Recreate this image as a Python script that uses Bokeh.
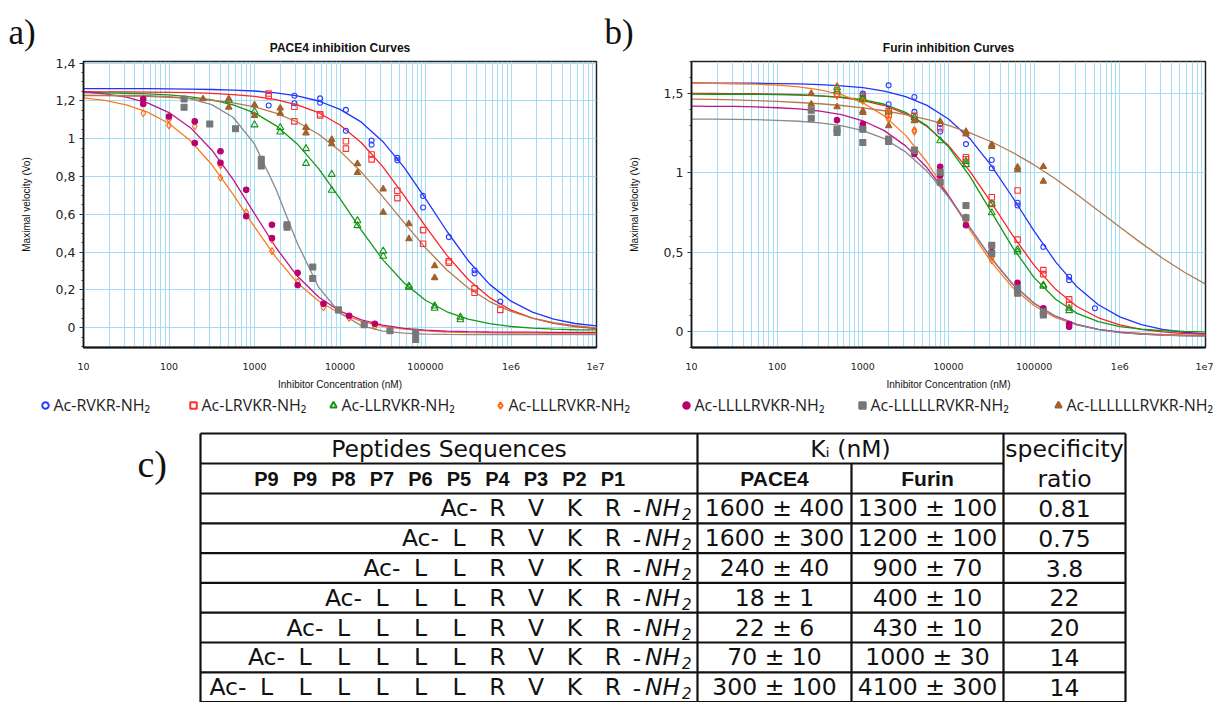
from bokeh.plotting import figure
from bokeh.models import Range1d, FixedTicker, CustomJSTickFormatter
from bokeh.layouts import column, row
from bokeh.embed import file_html
from bokeh.resources import INLINE
from bokeh.core.properties import value

# ----------------------------------------------------------------- data
names = ["Ac-RVKR-NH₂", "Ac-LRVKR-NH₂", "Ac-LLRVKR-NH₂", "Ac-LLLRVKR-NH₂",
         "Ac-LLLLRVKR-NH₂", "Ac-LLLLLRVKR-NH₂", "Ac-LLLLLLRVKR-NH₂"]
line_colors = ["#2233ff", "#ff2222", "#149814", "#ff7a1e", "#c0158a", "#8a8a8a", "#b67a48"]
mark_colors = ["#2a3cff", "#ff3030", "#169416", "#ff6a10", "#b8006f", "#777777", "#a2602c"]
markers = ["circle", "square", "triangle", "diamond", "circle", "square", "triangle"]
filled = [False, False, False, False, True, True, True]
msizes = [5, 5.5, 7, 7, 5.5, 6, 6.5]
panel_titles = ["PACE4 inhibition Curves", "Furin inhibition Curves"]
panel_tags = ["a)", "b)", "c)"]

# concentrations (nM) at which the fitted curves are sampled
curve_conc = [1.0e1, 1.78e1, 3.16e1, 5.62e1, 1.0e2, 1.78e2, 3.16e2, 5.62e2,
              1.0e3, 1.78e3, 3.16e3, 5.62e3, 1.0e4, 1.78e4, 3.16e4, 5.62e4,
              1.0e5, 1.78e5, 3.16e5, 5.62e5, 1.0e6, 1.78e6, 3.16e6, 5.62e6, 1.0e7]

# ---- PACE4 fitted curves
pace4_rvkr_fit = [1.265, 1.265, 1.265, 1.264, 1.263, 1.262, 1.260, 1.257, 1.252, 1.242, 1.226, 1.199, 1.155,
                  1.087, 0.985, 0.848, 0.683, 0.510, 0.354, 0.229, 0.140, 0.082, 0.045, 0.022, 0.009]
pace4_lrvkr_fit = [1.248, 1.247, 1.247, 1.246, 1.245, 1.243, 1.239, 1.233, 1.223, 1.206, 1.179, 1.137, 1.072,
                   0.978, 0.852, 0.699, 0.536, 0.382, 0.255, 0.159, 0.093, 0.050, 0.023, 0.006, -0.005]
pace4_llrvkr_fit = [1.243, 1.242, 1.240, 1.237, 1.231, 1.221, 1.205, 1.179, 1.136, 1.069, 0.972, 0.841, 0.682,
                    0.515, 0.360, 0.236, 0.145, 0.084, 0.045, 0.021, 0.006, -0.003, -0.008, -0.011, -0.012]
pace4_lllrvkr_fit = [1.216, 1.202, 1.178, 1.140, 1.080, 0.989, 0.863, 0.705, 0.533, 0.372, 0.238, 0.141, 0.075,
                     0.033, 0.007, -0.008, -0.017, -0.023, -0.026, -0.028, -0.029, -0.029, -0.030, -0.030, -0.030]
pace4_llllrvkr_fit = [1.247, 1.237, 1.219, 1.189, 1.138, 1.058, 0.940, 0.784, 0.603, 0.424, 0.273, 0.162, 0.087,
                      0.041, 0.013, -0.004, -0.013, -0.018, -0.021, -0.023, -0.024, -0.024, -0.025, -0.025, -0.025]
pace4_lllllrvkr_fit = [1.230, 1.229, 1.229, 1.227, 1.222, 1.210, 1.180, 1.113, 0.972, 0.734, 0.448, 0.214, 0.076,
                       0.011, -0.018, -0.029, -0.034, -0.036, -0.037, -0.037, -0.037, -0.037, -0.037, -0.037, -0.037]
pace4_llllllrvkr_fit = [1.228, 1.227, 1.225, 1.223, 1.219, 1.213, 1.203, 1.189, 1.168, 1.135, 1.088, 1.023, 0.934,
                        0.823, 0.693, 0.556, 0.422, 0.305, 0.210, 0.138, 0.086, 0.050, 0.026, 0.010, -0.001]

# ---- Furin fitted curves
furin_rvkr_fit = [1.565, 1.564, 1.564, 1.563, 1.561, 1.559, 1.554, 1.547, 1.535, 1.514, 1.479, 1.424, 1.338,
                  1.214, 1.045, 0.844, 0.632, 0.439, 0.282, 0.169, 0.093, 0.044, 0.014, -0.004, -0.015]
furin_lrvkr_fit = [1.499, 1.499, 1.498, 1.497, 1.495, 1.491, 1.484, 1.473, 1.454, 1.423, 1.371, 1.291, 1.171,
                   1.009, 0.812, 0.605, 0.417, 0.266, 0.158, 0.087, 0.042, 0.014, -0.002, -0.012, -0.017]
furin_llrvkr_fit = [1.495, 1.494, 1.494, 1.493, 1.492, 1.489, 1.484, 1.476, 1.460, 1.431, 1.380, 1.295, 1.163,
                    0.977, 0.754, 0.529, 0.340, 0.204, 0.115, 0.063, 0.032, 0.015, 0.006, 0.001, -0.002]
furin_lllrvkr_fit = [1.563, 1.562, 1.560, 1.557, 1.551, 1.540, 1.522, 1.491, 1.440, 1.358, 1.235, 1.066, 0.858,
                     0.638, 0.437, 0.277, 0.163, 0.088, 0.042, 0.014, -0.003, -0.012, -0.018, -0.021, -0.023]
furin_llllrvkr_fit = [1.419, 1.418, 1.417, 1.414, 1.409, 1.402, 1.388, 1.365, 1.327, 1.265, 1.169, 1.031, 0.854,
                      0.655, 0.461, 0.298, 0.178, 0.097, 0.045, 0.014, -0.004, -0.015, -0.022, -0.025, -0.027]
furin_lllllrvkr_fit = [1.337, 1.337, 1.336, 1.334, 1.330, 1.324, 1.314, 1.296, 1.265, 1.214, 1.131, 1.009, 0.846,
                       0.654, 0.462, 0.299, 0.177, 0.094, 0.043, 0.012, -0.006, -0.016, -0.022, -0.026, -0.028]
furin_llllllrvkr_fit = [1.463, 1.461, 1.458, 1.454, 1.449, 1.442, 1.434, 1.423, 1.408, 1.390, 1.366, 1.336, 1.298,
                        1.251, 1.195, 1.127, 1.049, 0.960, 0.863, 0.761, 0.658, 0.557, 0.462, 0.375, 0.299]

# ---- PACE4 measured points (concentration nM, Vo)
pace4_rvkr_x = [1465, 2930, 2930, 5860, 5860, 11720, 11720, 23440, 23440, 46880, 46880, 93750, 93750,
                187500, 375000, 375000, 750000]
pace4_rvkr_y = [1.175, 1.227, 1.187, 1.213, 1.19, 1.152, 1.042, 0.99, 0.968, 0.898, 0.885, 0.697, 0.636,
                0.479, 0.304, 0.287, 0.138]
pace4_lrvkr_x = [1465, 1465, 2930, 2930, 5860, 5860, 11720, 11720, 23440, 23440, 46880, 46880, 93750, 93750,
                 187500, 187500, 375000, 375000, 750000]
pace4_lrvkr_y = [1.239, 1.225, 1.169, 1.091, 1.129, 1.122, 0.986, 0.947, 0.916, 0.89, 0.724, 0.685, 0.516, 0.444,
                 0.351, 0.343, 0.208, 0.185, 0.094]
pace4_llrvkr_x = [500, 1000, 1000, 2000, 2000, 4000, 4000, 8000, 8000, 16000, 16000, 32000, 32000, 64000, 64000,
                  128000, 128000, 256000, 256000]
pace4_llrvkr_y = [1.204, 1.143, 1.073, 1.059, 1.035, 0.947, 0.869, 0.811, 0.727, 0.566, 0.54, 0.405, 0.378, 0.22,
                  0.213, 0.115, 0.103, 0.056, 0.042]
pace4_lllrvkr_x = [50, 100, 100, 200, 400, 400, 800, 1600, 1600, 3200, 6400, 12800, 25600]
pace4_lllrvkr_y = [1.134, 1.103, 1.07, 1.064, 0.86, 0.793, 0.61, 0.465, 0.405, 0.243, 0.108, 0.051, 0.007]
pace4_llllrvkr_x = [50, 50, 100, 200, 200, 400, 400, 800, 800, 1600, 1600, 3200, 3200, 6400, 12800, 25600]
pace4_llllrvkr_y = [1.21, 1.183, 1.117, 1.091, 0.977, 0.933, 0.872, 0.729, 0.589, 0.544, 0.474, 0.29, 0.225,
                    0.126, 0.063, 0.021]
pace4_lllllrvkr_x = [150, 150, 300, 600, 1200, 1200, 2400, 2400, 4800, 4800, 9600, 19200, 38400, 76800, 76800]
pace4_lllllrvkr_y = [1.21, 1.166, 1.077, 1.052, 0.89, 0.855, 0.544, 0.531, 0.321, 0.26, 0.094, 0.016, -0.016,
                     -0.025, -0.063]
pace4_llllllrvkr_x = [250, 500, 500, 1000, 1000, 2000, 2000, 4000, 4000, 8000, 8000, 16000, 16000, 32000, 32000,
                      64000, 64000, 128000, 128000]
pace4_llllllrvkr_y = [1.21, 1.21, 1.166, 1.178, 1.122, 1.161, 1.134, 1.059, 1.03, 0.995, 0.972, 0.867, 0.82,
                      0.733, 0.61, 0.549, 0.47, 0.327, 0.264]

# ---- Furin measured points
furin_rvkr_x = [1000, 1000, 2000, 2000, 4000, 4000, 8000, 8000, 16000, 32000, 32000, 64000, 64000, 128000,
                256000, 256000, 512000]
furin_rvkr_y = [1.498, 1.488, 1.55, 1.431, 1.477, 1.383, 1.306, 1.259, 1.18, 1.08, 1.028, 0.811, 0.794, 0.533,
                0.345, 0.324, 0.147]
furin_lrvkr_x = [500, 1000, 2000, 2000, 4000, 8000, 16000, 16000, 32000, 32000, 64000, 64000, 128000, 128000,
                 256000, 256000]
furin_lrvkr_y = [1.494, 1.483, 1.389, 1.364, 1.358, 1.28, 1.097, 1.085, 0.846, 0.804, 0.888, 0.579, 0.387, 0.362,
                 0.203, 0.167]
furin_llrvkr_x = [500, 500, 1000, 1000, 2000, 4000, 8000, 16000, 16000, 32000, 32000, 64000, 64000, 128000,
                  128000, 256000, 256000]
furin_llrvkr_y = [1.535, 1.514, 1.47, 1.46, 1.383, 1.347, 1.201, 1.071, 1.051, 0.804, 0.748, 0.516, 0.501, 0.293,
                  0.286, 0.147, 0.132]
furin_lllrvkr_x = [500, 500, 1000, 2000, 2000, 4000, 4000, 8000, 16000, 16000, 32000, 32000, 64000, 64000,
                   128000, 256000]
furin_lllrvkr_y = [1.546, 1.483, 1.452, 1.378, 1.337, 1.268, 1.259, 0.96, 0.72, 0.689, 0.47, 0.449, 0.272, 0.261,
                   0.136, 0.042]
furin_llllrvkr_x = [500, 1000, 1000, 2000, 4000, 8000, 8000, 16000, 32000, 64000, 128000, 128000, 256000, 256000]
furin_llllrvkr_y = [1.331, 1.306, 1.281, 1.197, 1.118, 1.038, 0.982, 0.669, 0.501, 0.307, 0.147, 0.136, 0.048,
                    0.031]
furin_lllllrvkr_x = [250, 250, 500, 500, 1000, 1000, 2000, 2000, 4000, 4000, 8000, 8000, 16000, 16000, 32000,
                     32000, 64000, 64000, 128000, 128000]
furin_lllllrvkr_y = [1.393, 1.343, 1.274, 1.253, 1.274, 1.19, 1.212, 1.197, 1.143, 1.138, 1.003, 0.94, 0.794,
                     0.717, 0.543, 0.491, 0.272, 0.241, 0.125, 0.105]
furin_llllllrvkr_x = [250, 250, 500, 1000, 1000, 2000, 4000, 8000, 16000, 16000, 32000, 32000, 64000, 64000,
                      128000, 128000]
furin_llllllrvkr_y = [1.498, 1.431, 1.414, 1.389, 1.378, 1.295, 1.327, 1.322, 1.259, 1.243, 1.176, 1.164, 1.034,
                      1.018, 1.038, 0.946]

# ---- axis ticks
x_major = [10, 100, 1000, 10000, 100000, 1000000, 10000000]
x_minor = [m * d for d in [10, 100, 1000, 10000, 100000, 1000000] for m in range(2, 10)]
pace4_y_major = [0, 0.2, 0.4, 0.6, 0.8, 1.0, 1.2, 1.4]
pace4_y_minor = [-0.1, -0.05, 0.05, 0.1, 0.15, 0.25, 0.3, 0.35, 0.45, 0.5, 0.55, 0.65, 0.7, 0.75,
                 0.85, 0.9, 0.95, 1.05, 1.1, 1.15, 1.25, 1.3, 1.35]
furin_y_major = [0, 0.5, 1.0, 1.5]
furin_y_minor = [-0.1, 0.1, 0.2, 0.3, 0.4, 0.6, 0.7, 0.8, 0.9, 1.1, 1.2, 1.3, 1.4, 1.6, 1.7]

# ---- table
residues = ["RVKR", "LRVKR", "LLRVKR", "LLLRVKR", "LLLLRVKR", "LLLLLRVKR", "LLLLLLRVKR"]
positions = ["P9", "P9", "P8", "P7", "P6", "P5", "P4", "P3", "P2", "P1"]
ki_pace4 = ["1600 ± 400", "1600 ± 300", "240 ± 40", "18 ± 1", "22 ± 6", "70 ± 10", "300 ± 100"]
ki_furin = ["1300 ± 100", "1200 ± 100", "900 ± 70", "400 ± 10", "430 ± 10", "1000 ± 30", "4100 ± 300"]
spec_ratio = ["0.81", "0.75", "3.8", "22", "20", "14", "14"]

pace4_fits = [pace4_rvkr_fit, pace4_lrvkr_fit, pace4_llrvkr_fit, pace4_lllrvkr_fit,
              pace4_llllrvkr_fit, pace4_lllllrvkr_fit, pace4_llllllrvkr_fit]
furin_fits = [furin_rvkr_fit, furin_lrvkr_fit, furin_llrvkr_fit, furin_lllrvkr_fit,
              furin_llllrvkr_fit, furin_lllllrvkr_fit, furin_llllllrvkr_fit]
pace4_pts = [(pace4_rvkr_x, pace4_rvkr_y), (pace4_lrvkr_x, pace4_lrvkr_y), (pace4_llrvkr_x, pace4_llrvkr_y),
             (pace4_lllrvkr_x, pace4_lllrvkr_y), (pace4_llllrvkr_x, pace4_llllrvkr_y),
             (pace4_lllllrvkr_x, pace4_lllllrvkr_y), (pace4_llllllrvkr_x, pace4_llllllrvkr_y)]
furin_pts = [(furin_rvkr_x, furin_rvkr_y), (furin_lrvkr_x, furin_lrvkr_y), (furin_llrvkr_x, furin_llrvkr_y),
             (furin_lllrvkr_x, furin_lllrvkr_y), (furin_llllrvkr_x, furin_llllrvkr_y),
             (furin_lllllrvkr_x, furin_lllllrvkr_y), (furin_llllllrvkr_x, furin_llllllrvkr_y)]

GRID = "#a2dcf5"
INK = "#111111"
W = 1213
STRIP_H = 54          # header strip holding panel tags and titles
TOP_H = 338           # plot row height
MB_T, MB_B = 7, 44


def canvas_fig(width, height):
    f = figure(width=width, height=height, x_range=Range1d(0, width), y_range=Range1d(height, 0),
               toolbar_location=None, output_backend="svg", min_border=0,
               x_axis_location=None, y_axis_location=None)
    f.grid.visible = False
    f.outline_line_color = None
    return f


def make_panel(width, min_left, min_right, yr, y_major, y_minor, fits, pts):
    p = figure(width=width, height=TOP_H, x_axis_type="log",
               x_range=Range1d(10, 1e7), y_range=Range1d(*yr),
               toolbar_location=None, output_backend="svg",
               min_border_left=min_left, min_border_right=min_right,
               min_border_top=MB_T, min_border_bottom=MB_B)
    p.outline_line_color = "#222222"
    p.outline_line_width = 1.5

    xt = FixedTicker(ticks=x_major, minor_ticks=x_minor)
    p.xaxis.ticker = xt
    p.xgrid.ticker = xt
    p.xgrid.grid_line_color = GRID
    p.xgrid.minor_grid_line_color = GRID
    p.xgrid.grid_line_width = 1
    p.xgrid.minor_grid_line_width = 1
    yt = FixedTicker(ticks=y_major, minor_ticks=y_minor)
    p.yaxis.ticker = yt
    p.ygrid.ticker = yt
    p.ygrid.grid_line_color = GRID
    p.ygrid.grid_line_width = 1

    p.xaxis.formatter = CustomJSTickFormatter(code="""
        if (tick >= 1e6) { return '1e' + Math.round(Math.log10(tick)); }
        return tick.toFixed(0);""")
    p.yaxis.formatter = CustomJSTickFormatter(code="""
        var s = (Math.round(tick * 10) / 10).toString();
        return s.replace('.', ',');""")

    p.xaxis.axis_label = "Inhibitor Concentration (nM)"
    p.yaxis.axis_label = "Maximal velocity (Vo)"
    for ax in (p.xaxis[0], p.yaxis[0]):
        ax.axis_label_text_font = "Liberation Sans"
        ax.axis_label_text_font_size = "10px"
        ax.axis_label_text_font_style = "normal"
        ax.axis_label_text_color = INK
        ax.major_label_text_font = "DejaVu Sans"
        ax.major_label_text_color = "#222222"
        ax.axis_line_color = INK
    p.xaxis.axis_line_width = 2
    p.yaxis.axis_line_width = 1.5
    p.xaxis.major_label_text_font_size = "9.5px"
    p.yaxis.major_label_text_font_size = "12.5px"
    p.xaxis.major_tick_line_color = None
    p.xaxis.minor_tick_line_color = None
    p.xaxis.major_label_standoff = 9
    p.xaxis.axis_label_standoff = 6
    p.yaxis.major_tick_in = 0
    p.yaxis.major_tick_out = 4
    p.yaxis.minor_tick_in = 0
    p.yaxis.minor_tick_out = 2
    p.yaxis.major_tick_line_color = "#333333"
    p.yaxis.minor_tick_line_color = "#333333"
    p.yaxis.major_label_standoff = 4
    p.yaxis.axis_label_standoff = 21

    for fit, col in zip(fits, line_colors):
        p.line(curve_conc, fit, line_color=col, line_width=1.3)
    for (xs, ys), mk, col, fl, sz in zip(pts, markers, mark_colors, filled, msizes):
        p.scatter(xs, ys, marker=mk, size=sz, line_color=col,
                  fill_color=col if fl else None, line_width=1.1)
    return p


# frame edges of the two panels (layout)
pa_left, pa_width, pa_right_border = 83, 604, 8
pb_left, pb_width, pb_right_border = 87, 609, 8

pa = make_panel(pa_width, pa_left, pa_right_border, (-0.105, 1.408),
                pace4_y_major, pace4_y_minor, pace4_fits, pace4_pts)
pb = make_panel(pb_width, pb_left, pb_right_border, (-0.1, 1.7),
                furin_y_major, furin_y_minor, furin_fits, furin_pts)

# ----------------------------------------------------------------- header strip
hs = canvas_fig(W, STRIP_H)
a_center = (pa_left + pa_width - pa_right_border) / 2
b_center = pa_width + (pb_left + pb_width - pb_right_border) / 2
hs.text(x=[a_center, b_center], y=[47, 47], text=panel_titles, text_font=value("Liberation Sans"),
        text_font_size="12px", text_font_style="bold", text_align="center",
        text_baseline="middle", text_color=INK)
hs.text(x=[8, pa_width], y=[32, 32], text=panel_tags[:2], text_font=value("Liberation Serif"),
        text_font_size="35px", text_align="left", text_baseline="middle", text_color=INK)

# ----------------------------------------------------------------- bottom: legend + table
BH = 310
pt = canvas_fig(W, BH)

# legend row (layout positions of the entries)
legend_text_x = [53, 201, 341, 508, 694, 870, 1066]
legend_y = 12
for nm, mk, col, fl, tx in zip(names, markers, mark_colors, filled, legend_text_x):
    pt.scatter(x=[tx - 8], y=[legend_y + 1], marker=mk, size=6.5, line_color=col,
               fill_color=col if fl else None, line_width=2)
    pt.text(x=[tx], y=[legend_y], text=[nm], text_font=value("Open Sans"), text_font_size="16px",
            text_align="left", text_baseline="middle", text_color="#222222")

# table geometry (layout, in this figure's pixel-like units)
col_edges = [200, 697, 851, 1003, 1125]
row_edges = [41, 71, 101, 130.8, 160.6, 190.4, 220.2, 250, 279.8, 309.6]
res_x0, res_dx = 266, 38.5

hx0, hx1, hy = [], [], []
for i, y in enumerate(row_edges):
    hx0.append(col_edges[0])
    hx1.append(col_edges[3] if i == 1 else col_edges[4])
    hy.append(y)
pt.segment(x0=hx0, y0=hy, x1=hx1, y1=hy, line_color=INK, line_width=2.2)
vx = list(col_edges)
vy0 = [row_edges[0], row_edges[0], row_edges[1], row_edges[0], row_edges[0]]
vy1 = [row_edges[-1] + 4] * 5
pt.segment(x0=vx, y0=vy0, x1=vx, y1=vy1, line_color=INK, line_width=2.2)


def ctext(x, y, t, size="23.5px", font="DejaVu Sans", style="normal", align="center"):
    pt.text(x=[x], y=[y], text=[t], text_font=value(font), text_font_size=size,
            text_font_style=style, text_align=align, text_baseline="middle", text_color=INK)


r1 = (row_edges[0] + row_edges[1]) / 2
r2 = (row_edges[1] + row_edges[2]) / 2
ctext((col_edges[0] + col_edges[1]) / 2, r1, "Peptides Sequences")
ctext((col_edges[1] + col_edges[3]) / 2, r1, "Kᵢ (nM)")
ctext((col_edges[3] + col_edges[4]) / 2, r1, "specificity")
ctext((col_edges[3] + col_edges[4]) / 2, r2, "ratio")
ctext((col_edges[1] + col_edges[2]) / 2, r2, "PACE4", size="21px", font="Liberation Sans", style="bold")
ctext((col_edges[2] + col_edges[3]) / 2, r2, "Furin", size="21px", font="Liberation Sans", style="bold")
pos_x = [res_x0 + res_dx * i for i in range(len(positions))]
pt.text(x=pos_x, y=[r2] * len(positions), text=positions, text_font=value("Liberation Sans"),
        text_font_size="20px", text_font_style="bold", text_align="center",
        text_baseline="middle", text_color=INK)

for k, seq in enumerate(residues):
    yc = (row_edges[k + 2] + row_edges[k + 3]) / 2
    first = len(positions) - len(seq)
    xs = pos_x[first:]
    pt.text(x=xs, y=[yc] * len(seq), text=list(seq), text_font=value("DejaVu Sans"),
            text_font_size="23.5px", text_align="center", text_baseline="middle", text_color=INK)
    ctext(pos_x[first] - 20, yc, "Ac-", align="right")
    ctext(pos_x[-1] + 24, yc, "-")
    ctext(pos_x[-1] + 32, yc, "NH", style="italic", align="left")
    ctext(pos_x[-1] + 69, yc + 6, "2", size="15px", style="italic", align="left")
    ctext((col_edges[1] + col_edges[2]) / 2, yc, ki_pace4[k])
    ctext((col_edges[2] + col_edges[3]) / 2, yc, ki_furin[k])
    ctext((col_edges[3] + col_edges[4]) / 2, yc, spec_ratio[k])

ctext(137, 71, panel_tags[2], size="38px", font="Liberation Serif", align="left")

layout = column(hs, row(pa, pb), pt)
open("out.html", "w").write(file_html(layout, INLINE))
